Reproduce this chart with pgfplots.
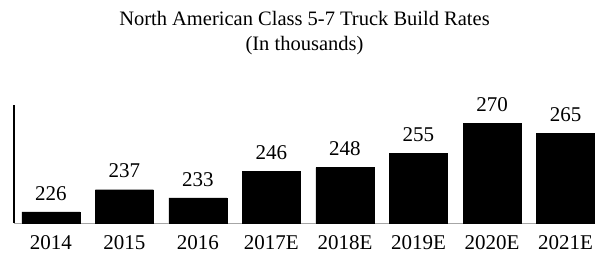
\documentclass[border=0pt]{standalone}
\usepackage{pgfplots}
\pgfplotsset{compat=1.18}
\usepackage{fontspec}
\setmainfont{Liberation Serif}
\begin{document}
\begin{tikzpicture}
\begin{axis}[
  scale only axis, width=581pt, height=118pt,
  xmin=-0.5, xmax=7.4, ymin=220.5, ymax=279,
  ybar, bar width=58pt,
  /pgf/number format/assume math mode=true,
  axis lines*=left,
  x axis line style={gray!70, line width=0.6pt},
  y axis line style={black, line width=1.6pt},
  ytick=\empty,
  xtick=data,
  xticklabels={2014,2015,2016,2017E,2018E,2019E,2020E,2021E},
  major tick length=0pt,
  xticklabel style={font=\fontsize{21}{24}\selectfont, yshift=-9pt},
  nodes near coords,
  every node near coord/.append style={font=\fontsize{21}{24}\selectfont, black, yshift=8pt},
  title={North American Class 5-7 Truck Build Rates\\(In thousands)},
  title style={font=\fontsize{20.5}{25}\selectfont, align=center, yshift=41pt},
  clip=false,
]
\addplot[fill=black, draw=black] coordinates {(0,226) (1,237) (2,233) (3,246) (4,248) (5,255) (6,270) (7,265)};
\end{axis}
\pgfresetboundingbox
\path ([xshift=-14pt,yshift=-42pt]current axis.south west) rectangle ([yshift=105pt]current axis.north east);
\end{tikzpicture}
\end{document}
